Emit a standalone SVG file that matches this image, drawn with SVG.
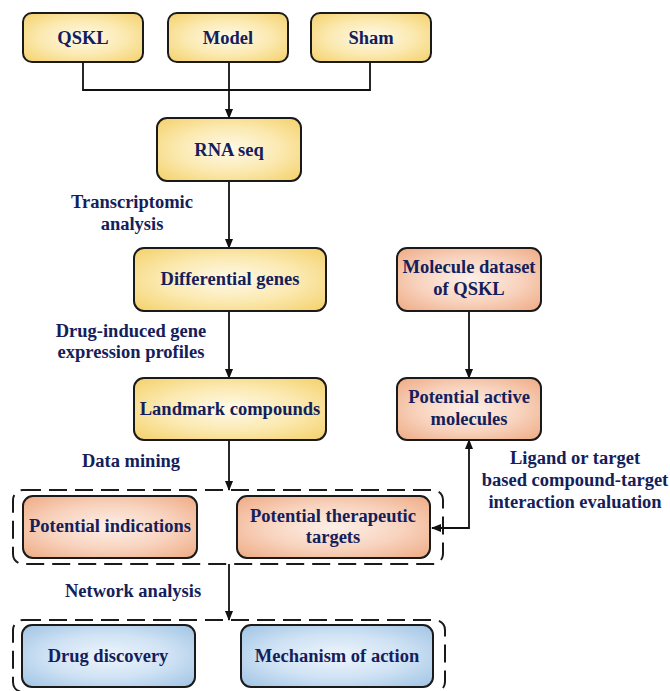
<svg xmlns="http://www.w3.org/2000/svg" width="670" height="691" viewBox="0 0 670 691">
<defs>
<radialGradient id="gY" cx="50%" cy="50%" r="65%">
<stop offset="0" stop-color="#fffaea"/>
<stop offset="0.55" stop-color="#fbe9b0"/>
<stop offset="1" stop-color="#f5d474"/>
</radialGradient>
<radialGradient id="gO" cx="50%" cy="50%" r="65%">
<stop offset="0" stop-color="#fdf0e8"/>
<stop offset="0.55" stop-color="#f8d3be"/>
<stop offset="1" stop-color="#f0b08c"/>
</radialGradient>
<radialGradient id="gB" cx="50%" cy="50%" r="65%">
<stop offset="0" stop-color="#eef5fc"/>
<stop offset="0.55" stop-color="#cfe2f4"/>
<stop offset="1" stop-color="#a6c8e6"/>
</radialGradient>
<marker id="ah" markerWidth="10" markerHeight="8" refX="9" refY="4" orient="auto-start-reverse" markerUnits="userSpaceOnUse">
<path d="M0,0 L10,4 L0,8 Z" fill="#111"/>
</marker>
<style>
.box{stroke:#1a1a1a;stroke-width:2}
.y{fill:url(#gY)}
.o{fill:url(#gO)}
.b{fill:url(#gB)}
.dash{fill:none;stroke:#1a1a1a;stroke-width:2;stroke-dasharray:18 8}
.t{font-family:"Liberation Serif","Times New Roman",serif;font-weight:bold;font-size:18.5px;fill:#14205a;text-anchor:middle}
.c{fill:none;stroke:#111;stroke-width:1.8}
</style>
</defs>
<rect width="670" height="691" fill="#fff"/>

<g id="groups">
<rect id="group1" class="dash" x="13" y="490" width="430" height="74" rx="10"/>
<rect id="group2" class="dash" x="13" y="620" width="432" height="72" rx="10"/>
</g>

<g id="connectors">
<path class="c" d="M83,62 V90 H370 V62"/>
<path class="c" d="M229,62 V118" marker-end="url(#ah)"/>
<path class="c" d="M229,181 V248" marker-end="url(#ah)"/>
<path class="c" d="M229,311 V378" marker-end="url(#ah)"/>
<path class="c" d="M469,311 V378" marker-end="url(#ah)"/>
<path class="c" d="M229,440 V490" marker-end="url(#ah)"/>
<path class="c" d="M229,564 V620" marker-end="url(#ah)"/>
<path class="c" d="M432,528 H469 V440" marker-start="url(#ah)" marker-end="url(#ah)"/>
</g>

<g id="n-qskl"><rect class="box y" x="23" y="13" width="120" height="49" rx="9"/><text class="t" x="83" y="44">QSKL</text></g>
<g id="n-model"><rect class="box y" x="168" y="13" width="120" height="49" rx="9"/><text class="t" x="228" y="44">Model</text></g>
<g id="n-sham"><rect class="box y" x="311" y="13" width="120" height="49" rx="9"/><text class="t" x="371" y="44">Sham</text></g>
<g id="n-rnaseq"><rect class="box y" x="157" y="118" width="144" height="63" rx="10"/><text class="t" x="229" y="156">RNA seq</text></g>
<g id="n-diff"><rect class="box y" x="134" y="248" width="192" height="63" rx="10"/><text class="t" x="230" y="285">Differential genes</text></g>
<g id="n-molset"><rect class="box o" x="397" y="248" width="144" height="63" rx="10"/><text class="t" x="469" y="273">Molecule dataset</text><text class="t" x="469" y="295">of QSKL</text></g>
<g id="n-landmark"><rect class="box y" x="134" y="378" width="192" height="62" rx="10"/><text class="t" x="230" y="415">Landmark compounds</text></g>
<g id="n-active"><rect class="box o" x="397" y="378" width="144" height="62" rx="10"/><text class="t" x="469" y="403">Potential active</text><text class="t" x="469" y="425">molecules</text></g>
<g id="n-indications"><rect class="box o" x="23" y="496" width="174" height="62" rx="10"/><text class="t" x="110" y="532">Potential indications</text></g>
<g id="n-targets"><rect class="box o" x="237" y="496" width="193" height="62" rx="10"/><text class="t" x="333" y="522">Potential therapeutic</text><text class="t" x="333" y="543">targets</text></g>
<g id="n-drug"><rect class="box b" x="22" y="625" width="173" height="62" rx="10"/><text class="t" x="108" y="662">Drug discovery</text></g>
<g id="n-moa"><rect class="box b" x="241" y="625" width="192" height="62" rx="10"/><text class="t" x="337" y="662">Mechanism of action</text></g>

<g id="labels">
<text class="t" x="132" y="208">Transcriptomic</text>
<text class="t" x="132" y="230">analysis</text>
<text class="t" x="131" y="337">Drug-induced gene</text>
<text class="t" x="131" y="358">expression profiles</text>
<text class="t" x="131" y="467">Data mining</text>
<text class="t" x="133" y="597">Network analysis</text>
<text class="t" x="575" y="464">Ligand or target</text>
<text class="t" x="575" y="486">based compound-target</text>
<text class="t" x="575" y="508">interaction evaluation</text>
</g>
</svg>
